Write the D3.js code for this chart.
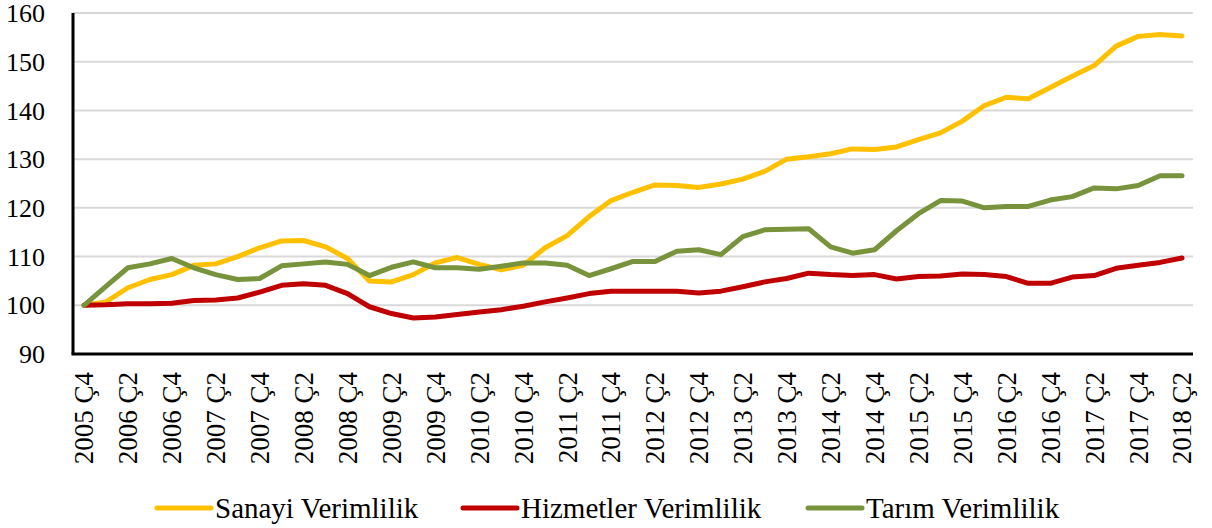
<!DOCTYPE html>
<html>
<head>
<meta charset="utf-8">
<script src="https://cdn.jsdelivr.net/npm/d3@7"></script>
<style>
  body { margin: 0; background: #fff; }
</style>
</head>
<body>
<div id="chart"></div>
<script>
// Quarter labels (every quarter, labels shown on every second one)
const quarters = [
  "2005 Ç4",
  "2006 Ç1", "2006 Ç2", "2006 Ç3", "2006 Ç4",
  "2007 Ç1", "2007 Ç2", "2007 Ç3", "2007 Ç4",
  "2008 Ç1", "2008 Ç2", "2008 Ç3", "2008 Ç4",
  "2009 Ç1", "2009 Ç2", "2009 Ç3", "2009 Ç4",
  "2010 Ç1", "2010 Ç2", "2010 Ç3", "2010 Ç4",
  "2011 Ç1", "2011 Ç2", "2011 Ç3", "2011 Ç4",
  "2012 Ç1", "2012 Ç2", "2012 Ç3", "2012 Ç4",
  "2013 Ç1", "2013 Ç2", "2013 Ç3", "2013 Ç4",
  "2014 Ç1", "2014 Ç2", "2014 Ç3", "2014 Ç4",
  "2015 Ç1", "2015 Ç2", "2015 Ç3", "2015 Ç4",
  "2016 Ç1", "2016 Ç2", "2016 Ç3", "2016 Ç4",
  "2017 Ç1", "2017 Ç2", "2017 Ç3", "2017 Ç4",
  "2018 Ç1", "2018 Ç2"
];

const sanayi = [
  100, 100.7, 103.6, 105.3, 106.3, 108.2, 108.5, 110, 111.8, 113.2,
  113.3, 112, 109.6, 105, 104.8, 106.3, 108.7, 109.8, 108.4, 107.3,
  108.2, 111.8, 114.3, 118.2, 121.5, 123.2, 124.7, 124.6, 124.2, 124.9,
  125.9, 127.5, 130, 130.5, 131.1, 132.1, 132, 132.5, 134, 135.4,
  137.8, 141, 142.7, 142.4, 144.7, 147, 149.2, 153.2, 155.2, 155.6, 155.3
];

const hizmetler = [
  100, 100.1, 100.3, 100.3, 100.4, 101, 101.1, 101.5, 102.7, 104.1,
  104.4, 104.1, 102.4, 99.7, 98.3, 97.4, 97.6, 98.1, 98.6, 99.1,
  99.8, 100.7, 101.5, 102.4, 102.9, 102.9, 102.9, 102.9, 102.5, 102.9,
  103.8, 104.8, 105.5, 106.6, 106.3, 106.1, 106.3, 105.4, 105.9, 106,
  106.4, 106.3, 105.9, 104.5, 104.5, 105.8, 106.1, 107.6, 108.2, 108.8, 109.7
];

const tarim = [
  100, 103.9, 107.7, 108.5, 109.6, 107.7, 106.3, 105.3, 105.5, 108.1,
  108.5, 108.9, 108.4, 106.1, 107.8, 108.9, 107.7, 107.7, 107.4, 108,
  108.7, 108.7, 108.2, 106.1, 107.5, 109, 109, 111.1, 111.4, 110.4,
  114.1, 115.5, 115.6, 115.7, 112, 110.7, 111.4, 115.3, 118.8, 121.5,
  121.4, 120, 120.3, 120.3, 121.6, 122.3, 124.1, 123.9, 124.6, 126.6, 126.6
];

const yTicks = [90, 100, 110, 120, 130, 140, 150, 160];

const seriesNames = ["Sanayi Verimlilik", "Hizmetler Verimlilik", "Tarım Verimlilik"];
const seriesColors = ["#FFC000", "#C00000", "#77933C"];

const width = 1212, height = 528;
const plotLeft = 73, plotRight = 1193, plotTop = 13, plotBottom = 354;

const svg = d3.select("#chart").append("svg")
  .attr("width", width)
  .attr("height", height)
  .style("font-family", '"Liberation Serif", "Times New Roman", serif');

const x = d3.scalePoint().domain(quarters).range([plotLeft, plotRight]).padding(0.5);
const y = d3.scaleLinear().domain([90, 160]).range([plotBottom, plotTop]);

// Gridlines
svg.append("g")
  .selectAll("line")
  .data(yTicks.filter(d => d > 90))
  .enter().append("line")
  .attr("x1", plotLeft).attr("x2", plotRight)
  .attr("y1", d => y(d)).attr("y2", d => y(d))
  .attr("stroke", "#D9D9D9")
  .attr("stroke-width", 2);

// Y axis labels
svg.append("g")
  .selectAll("text")
  .data(yTicks)
  .enter().append("text")
  .attr("x", 45)
  .attr("y", d => y(d))
  .attr("dy", "0.35em")
  .attr("text-anchor", "end")
  .attr("font-size", 26)
  .text(d => d);

// Series lines
const line = d3.line()
  .x((d, i) => x(quarters[i]))
  .y(d => y(d));

[sanayi, hizmetler, tarim].forEach((values, k) => {
  svg.append("path")
    .datum(values)
    .attr("d", line)
    .attr("fill", "none")
    .attr("stroke", seriesColors[k])
    .attr("stroke-width", 5)
    .attr("stroke-linejoin", "round")
    .attr("stroke-linecap", "round");
});

// Axis lines
svg.append("line")
  .attr("x1", plotLeft).attr("x2", plotLeft)
  .attr("y1", plotTop).attr("y2", plotBottom)
  .attr("stroke", "#000").attr("stroke-width", 3);
svg.append("line")
  .attr("x1", plotLeft - 1.5).attr("x2", plotRight)
  .attr("y1", plotBottom).attr("y2", plotBottom)
  .attr("stroke", "#000").attr("stroke-width", 3);

// X labels, rotated
svg.append("g")
  .selectAll("text")
  .data(quarters.filter((d, i) => i % 2 === 0))
  .enter().append("text")
  .attr("transform", d => `translate(${x(d)},372) rotate(-90)`)
  .attr("dy", "0.35em")
  .attr("text-anchor", "end")
  .attr("font-size", 27)
  .text(d => d);

// Legend
const legendX = [157, 463, 808];
const legend = svg.append("g");
seriesNames.forEach((name, k) => {
  legend.append("line")
    .attr("x1", legendX[k]).attr("x2", legendX[k] + 54)
    .attr("y1", 508).attr("y2", 508)
    .attr("stroke", seriesColors[k])
    .attr("stroke-width", 5)
    .attr("stroke-linecap", "round");
  legend.append("text")
    .attr("x", legendX[k] + 58)
    .attr("y", 508)
    .attr("dy", "0.35em")
    .attr("font-size", 29)
    .text(name);
});
</script>
</body>
</html>
